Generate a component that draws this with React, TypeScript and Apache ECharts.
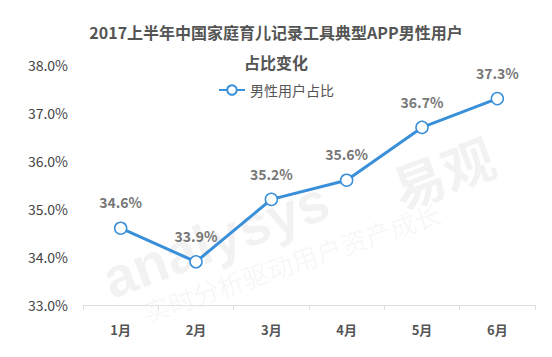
import React, { useEffect, useRef } from "react";
import * as echarts from "echarts";

const categories = ["1月", "2月", "3月", "4月", "5月", "6月"];
const values = [34.6, 33.9, 35.2, 35.6, 36.7, 37.3];
const seriesName = "男性用户占比";
const titleLines = ["2017上半年中国家庭育儿记录工具典型APP男性用户", "占比变化"];

export default function App() {
  const ref = useRef<HTMLDivElement>(null);
  useEffect(() => {
    if (!ref.current) return;
    const chart = echarts.init(ref.current, null, { renderer: "svg" });
    const font = "'Noto Sans CJK SC', 'Noto Sans', sans-serif";
    const titleStyle = {
      fontSize: 16,
      fontWeight: "bold",
      color: "#555",
      fontFamily: font,
    };
    chart.setOption({
      animation: false,
      textStyle: { fontFamily: font },
      title: [
        { text: titleLines[0], left: "center", top: 24, textStyle: titleStyle, padding: 0 },
        { text: titleLines[1], left: "center", top: 54, textStyle: titleStyle, padding: 0 },
      ],
      legend: {
        data: [seriesName],
        top: 78,
        left: "center",
        itemWidth: 26,
        itemHeight: 12,
        itemGap: 4,
        textStyle: { fontSize: 14, color: "#555", fontFamily: font },
      },
      graphic: [
        {
          type: "text",
          x: 95,
          y: 255,
          rotation: 0.36,
          silent: true,
          z: -10,
          style: {
            text: "analysys",
            fontSize: 56,
            fontWeight: "bold",
            fill: "rgba(0,0,0,0.05)",
            fontFamily: "Liberation Sans, sans-serif",
          },
        },
        {
          type: "text",
          x: 385,
          y: 165,
          rotation: 0.36,
          silent: true,
          z: -10,
          style: {
            text: "易观",
            fontSize: 52,
            fontWeight: "bold",
            fill: "rgba(0,0,0,0.05)",
            fontFamily: font,
          },
        },
        {
          type: "text",
          x: 140,
          y: 300,
          rotation: 0.33,
          silent: true,
          z: -10,
          style: {
            text: "实时分析驱动用户资产成长",
            fontSize: 26,
            fill: "rgba(0,0,0,0.05)",
            fontFamily: font,
          },
        },
      ],
      grid: { left: 83, right: 17, top: 65, bottom: 52 },
      xAxis: {
        type: "category",
        data: categories,
        boundaryGap: true,
        axisLine: { lineStyle: { color: "#e0e0e0" } },
        axisTick: { show: true, lineStyle: { color: "#e0e0e0" } },
        axisLabel: {
          fontSize: 13,
          fontWeight: "bold",
          color: "#555",
          margin: 18,
          fontFamily: font,
        },
      },
      yAxis: {
        type: "value",
        min: 33,
        max: 38,
        interval: 1,
        splitLine: { show: false },
        axisLine: { show: false },
        axisTick: { show: false },
        axisLabel: {
          fontSize: 14,
          color: "#444",
          margin: 15,
          formatter: (v: number) => v.toFixed(1) + "%",
          fontFamily: font,
        },
      },
      series: [
        {
          name: seriesName,
          type: "line",
          data: values,
          symbol: "circle",
          symbolSize: 12,
          itemStyle: { color: "#fff", borderColor: "#3a8fd9", borderWidth: 1.5 },
          lineStyle: { color: "#3a8fd9", width: 3 },
          label: {
            show: true,
            position: "top",
            distance: 12,
            fontSize: 14,
            fontWeight: "bold",
            color: "#777",
            formatter: (p: any) => p.value.toFixed(1) + "%",
            fontFamily: font,
          },
        },
      ],
    });
    return () => chart.dispose();
  }, []);
  return <div ref={ref} style={{ width: 552, height: 357, position: "absolute", left: 0, top: 0 }} />;
}
